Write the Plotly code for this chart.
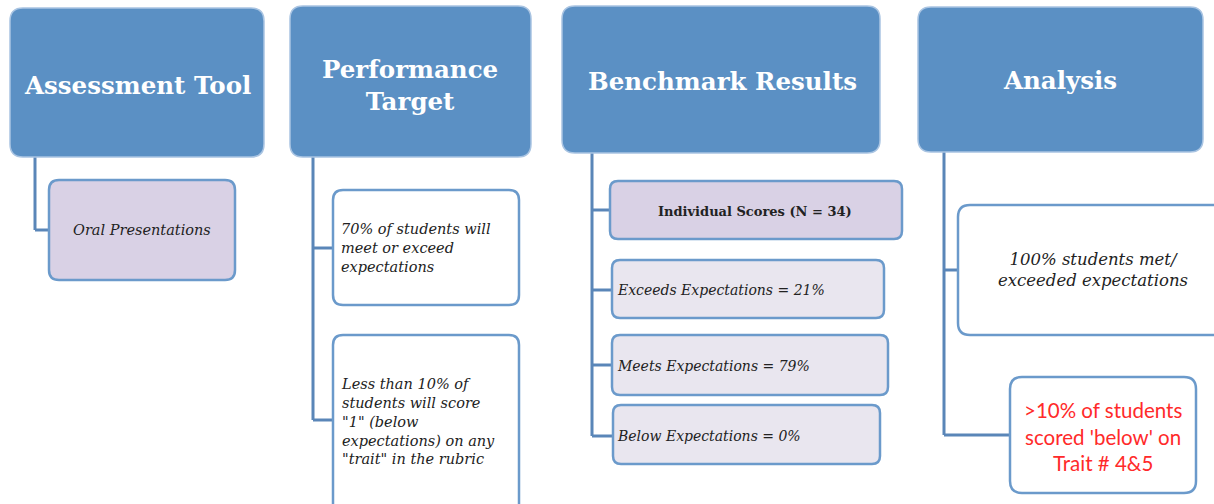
import plotly.graph_objects as go

# ---- content ----
headers = ["Assessment Tool", "Performance<br>Target", "Benchmark Results", "Analysis"]
tool_items = ["Oral Presentations"]
target_items = ["70% of students will<br>meet or exceed<br>expectations",
                "Less than 10% of<br>students will score<br>\"1\" (below<br>expectations) on any<br>\"trait\" in the rubric"]
sample_label = "Individual Scores (N = 34)"
result_labels = ["Exceeds Expectations", "Meets Expectations", "Below Expectations"]
result_values = [21, 79, 0]
analysis_items = ["100% students met/<br>exceeded expectations",
                  ">10% of students<br>scored 'below' on<br>Trait # 4&5"]

# ---- layout geometry (pixels) ----
W, H = 1214, 504
HEAD_FILL = "#5B90C4"
HEAD_LINE = "#A9C4E2"
BOX_LINE = "#6B9ACB"
CONN = "#5A86B8"
LAV = "#D9D1E5"
GREY = "#E9E6EF"

header_boxes = [(10, 8, 264, 157), (290, 6, 531, 157), (562, 6, 880, 153), (918, 7, 1203, 152)]
header_text_pos = [(137, 85), (410, 85), (722, 81), (1060, 80)]
serif = "DejaVu Serif"
sans = "Lato"

fig = go.Figure()
shapes = []
annotations = []


def rrect(x0, y0, x1, y1, r, fill, line, lw):
    p = (f"M {x0+r},{y0} L {x1-r},{y0} Q {x1},{y0} {x1},{y0+r} "
         f"L {x1},{y1-r} Q {x1},{y1} {x1-r},{y1} L {x0+r},{y1} "
         f"Q {x0},{y1} {x0},{y1-r} L {x0},{y0+r} Q {x0},{y0} {x0+r},{y0} Z")
    shapes.append(dict(type="path", path=p, xref="x", yref="y", fillcolor=fill,
                       line=dict(color=line, width=lw), layer="above"))


def seg(x0, y0, x1, y1):
    shapes.append(dict(type="line", x0=x0, y0=y0, x1=x1, y1=y1, xref="x", yref="y",
                       line=dict(color=CONN, width=3), layer="below"))


def text(x, y, s, size, color="#222222", family=serif, xanchor="center", align="center"):
    annotations.append(dict(x=x, y=y, xref="x", yref="y", text=s, showarrow=False,
                            xanchor=xanchor, yanchor="middle", align=align,
                            font=dict(family=family, size=size, color=color)))


# headers
for (x0, y0, x1, y1), (tx, ty), h in zip(header_boxes, header_text_pos, headers):
    rrect(x0, y0, x1, y1, 13, HEAD_FILL, HEAD_LINE, 1.5)
    text(tx, ty, f"<b>{h}</b>", 24.5, color="white")

# column 1
seg(35, 157, 35, 230); seg(35, 230, 50, 230)
rrect(49, 180, 235, 280, 10, LAV, BOX_LINE, 2.5)
text(142, 230, f"<i>{tool_items[0]}</i>", 14.5)

# column 2
seg(313, 157, 313, 420); seg(313, 248, 334, 248); seg(313, 420, 334, 420)
rrect(333, 190, 519, 305, 10, "white", BOX_LINE, 2.5)
rrect(333, 335, 519, 515, 10, "white", BOX_LINE, 2.5)
text(339, 248, f"<i>{target_items[0]}</i>", 14.5, xanchor="left", align="left")
text(339, 421, f"<i>{target_items[1]}</i>", 14.5, xanchor="left", align="left")

# column 3
seg(592, 153, 592, 436)
for yy in (210, 290, 365, 436):
    seg(592, yy, 613, yy)
rrect(610, 181, 902, 239, 8, LAV, BOX_LINE, 2.5)
text(755, 211, f"<b>{sample_label}</b>", 13)
res_boxes = [(612, 260, 884, 318), (612, 335, 888, 395), (613, 405, 880, 464)]
res_y = [290, 366, 436]
for (x0, y0, x1, y1), ty, lab, v in zip(res_boxes, res_y, result_labels, result_values):
    rrect(x0, y0, x1, y1, 8, GREY, BOX_LINE, 2.5)
    text(615, ty, f"<i>{lab} = {v}%</i>", 14, xanchor="left", align="left")

# column 4
seg(944, 152, 944, 435); seg(944, 270, 959, 270); seg(944, 435, 1011, 435)
rrect(958, 205, 1230, 335, 12, "white", BOX_LINE, 2.5)
text(1093, 270, f"<i>{analysis_items[0]}</i>", 16.5)
rrect(1010, 377, 1196, 493, 12, "white", BOX_LINE, 2.5)
text(1103, 436, analysis_items[1], 20.5, color="#FF2A2A", family=sans)

fig.update_layout(
    width=W, height=H, margin=dict(l=0, r=0, t=0, b=0),
    paper_bgcolor="white", plot_bgcolor="white",
    xaxis=dict(range=[0, W], visible=False, fixedrange=True),
    yaxis=dict(range=[H, 0], visible=False, fixedrange=True),
    shapes=shapes, annotations=annotations, showlegend=False,
)
fig.write_html("out.html", config={"displayModeBar": False},
               post_script="document.body.style.margin='0';")
